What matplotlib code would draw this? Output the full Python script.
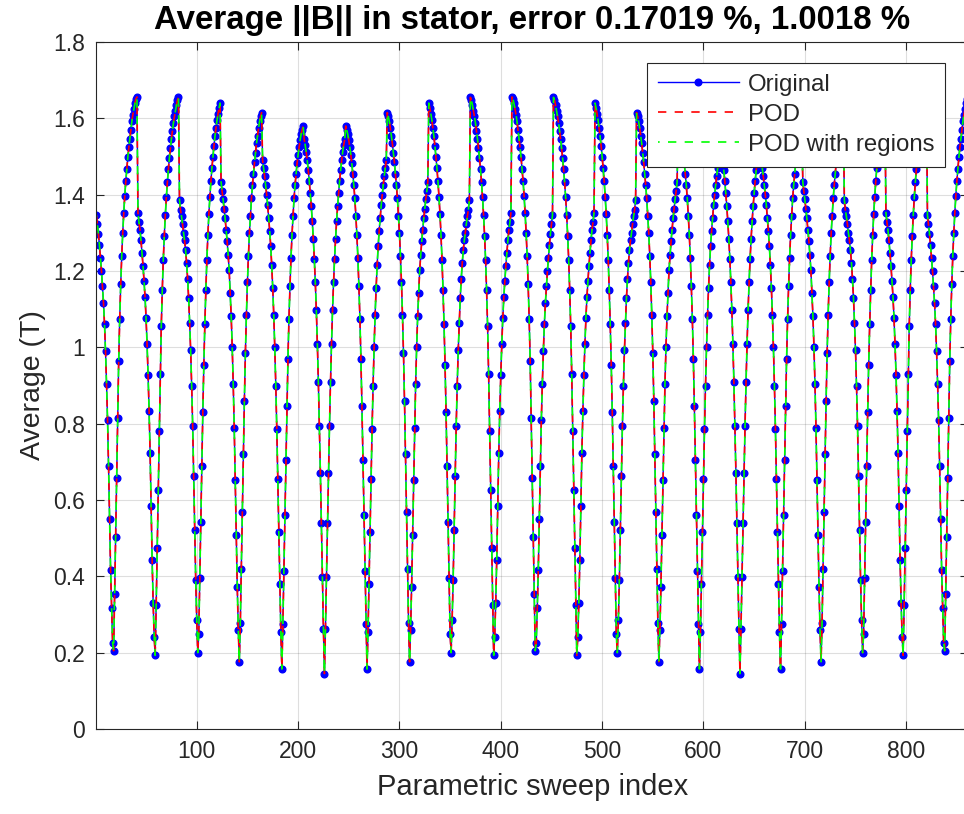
#!/usr/bin/env python3
"""Average ||B|| in the stator over the parametric sweep: original vs POD reconstructions."""

import matplotlib

matplotlib.use("Agg")
import matplotlib.pyplot as plt
import numpy as np

OUT_PATH = "out.png"

TITLE = "Average ||B|| in stator, error 0.17019 %, 1.0018 %"
X_LABEL = "Parametric sweep index"
Y_LABEL = "Average (T)"
LEGEND_LABELS = ["Original", "POD", "POD with regions"]

X_TICKS = [100, 200, 300, 400, 500, 600, 700, 800]
Y_TICKS = [0, 0.2, 0.4, 0.6, 0.8, 1.0, 1.2, 1.4, 1.6, 1.8]
Y_TICK_LABELS = ["0", "0.2", "0.4", "0.6", "0.8", "1", "1.2", "1.4", "1.6", "1.8"]

# The sweep is 21 blocks of 41 points. Blocks (A..K);
# the second half of the sweep repeats them (see BLOCK_ORDER).
block_a = [1.346, 1.323, 1.298, 1.268, 1.235, 1.200, 1.160, 1.116, 1.061, 0.990,
           0.905, 0.809, 0.688, 0.549, 0.417, 0.316, 0.225, 0.205, 0.353, 0.504,
           0.658, 0.814, 0.965, 1.075, 1.165, 1.240, 1.300, 1.352, 1.397, 1.435,
           1.468, 1.498, 1.524, 1.547, 1.570, 1.592, 1.610, 1.625, 1.639, 1.651,
           1.656]
block_b = [1.353, 1.328, 1.308, 1.280, 1.247, 1.214, 1.174, 1.132, 1.076, 1.008,
           0.927, 0.832, 0.722, 0.583, 0.442, 0.331, 0.242, 0.193, 0.326, 0.474,
           0.625, 0.780, 0.930, 1.055, 1.150, 1.230, 1.293, 1.347, 1.393, 1.432,
           1.466, 1.496, 1.522, 1.546, 1.568, 1.588, 1.605, 1.620, 1.635, 1.648,
           1.655]
block_c = [1.386, 1.360, 1.343, 1.323, 1.300, 1.280, 1.255, 1.222, 1.180, 1.130,
           1.065, 0.992, 0.900, 0.794, 0.663, 0.522, 0.391, 0.286, 0.200, 0.248,
           0.395, 0.543, 0.690, 0.830, 0.955, 1.060, 1.150, 1.230, 1.295, 1.350,
           1.395, 1.435, 1.470, 1.500, 1.528, 1.553, 1.575, 1.595, 1.612, 1.627,
           1.640]
block_d = [1.434, 1.409, 1.388, 1.363, 1.338, 1.308, 1.278, 1.242, 1.202, 1.142,
           1.081, 1.001, 0.905, 0.789, 0.653, 0.507, 0.371, 0.260, 0.176, 0.278,
           0.419, 0.569, 0.720, 0.860, 0.985, 1.085, 1.170, 1.240, 1.300, 1.345,
           1.390, 1.425, 1.455, 1.485, 1.510, 1.535, 1.555, 1.575, 1.592, 1.605,
           1.615]
block_e = [1.490, 1.470, 1.448, 1.425, 1.400, 1.372, 1.340, 1.305, 1.265, 1.215,
           1.155, 1.085, 1.000, 0.900, 0.785, 0.655, 0.517, 0.380, 0.254, 0.157,
           0.275, 0.415, 0.560, 0.705, 0.845, 0.970, 1.075, 1.160, 1.235, 1.295,
           1.345, 1.390, 1.425, 1.455, 1.482, 1.505, 1.525, 1.543, 1.558, 1.570,
           1.580]
block_f = [1.545, 1.530, 1.512, 1.490, 1.465, 1.437, 1.405, 1.370, 1.330, 1.285,
           1.232, 1.170, 1.097, 1.010, 0.910, 0.795, 0.670, 0.540, 0.398, 0.263,
           0.145, 0.263, 0.398, 0.540, 0.670, 0.795, 0.910, 1.010, 1.097, 1.170,
           1.232, 1.285, 1.330, 1.370, 1.405, 1.437, 1.465, 1.490, 1.512, 1.530,
           1.545]
block_g = [1.580, 1.570, 1.558, 1.543, 1.525, 1.505, 1.482, 1.455, 1.425, 1.390,
           1.345, 1.295, 1.235, 1.160, 1.075, 0.970, 0.845, 0.705, 0.560, 0.415,
           0.275, 0.157, 0.254, 0.380, 0.517, 0.655, 0.785, 0.900, 1.000, 1.085,
           1.155, 1.215, 1.265, 1.305, 1.340, 1.372, 1.400, 1.425, 1.448, 1.470,
           1.490]
block_h = [1.615, 1.605, 1.592, 1.575, 1.555, 1.535, 1.510, 1.485, 1.455, 1.425,
           1.390, 1.345, 1.300, 1.240, 1.170, 1.085, 0.985, 0.860, 0.720, 0.569,
           0.419, 0.278, 0.176, 0.260, 0.371, 0.507, 0.653, 0.789, 0.905, 1.001,
           1.081, 1.142, 1.202, 1.242, 1.278, 1.308, 1.338, 1.363, 1.388, 1.409,
           1.434]
block_i = [1.640, 1.627, 1.612, 1.595, 1.575, 1.553, 1.528, 1.500, 1.470, 1.435,
           1.395, 1.350, 1.295, 1.230, 1.150, 1.060, 0.955, 0.830, 0.690, 0.543,
           0.395, 0.248, 0.200, 0.286, 0.391, 0.522, 0.663, 0.794, 0.900, 0.992,
           1.065, 1.130, 1.180, 1.222, 1.255, 1.280, 1.300, 1.323, 1.343, 1.360,
           1.386]
block_j = [1.655, 1.648, 1.635, 1.620, 1.605, 1.588, 1.568, 1.546, 1.522, 1.496,
           1.466, 1.432, 1.393, 1.347, 1.293, 1.230, 1.150, 1.055, 0.930, 0.780,
           0.625, 0.474, 0.326, 0.193, 0.242, 0.331, 0.442, 0.583, 0.722, 0.832,
           0.927, 1.008, 1.076, 1.132, 1.174, 1.214, 1.247, 1.280, 1.308, 1.328,
           1.353]
block_k = [1.656, 1.651, 1.639, 1.625, 1.610, 1.592, 1.570, 1.547, 1.524, 1.498,
           1.468, 1.435, 1.397, 1.352, 1.300, 1.240, 1.165, 1.075, 0.965, 0.814,
           0.658, 0.504, 0.353, 0.205, 0.225, 0.316, 0.417, 0.549, 0.688, 0.809,
           0.905, 0.990, 1.061, 1.116, 1.160, 1.200, 1.235, 1.268, 1.298, 1.323,
           1.346]

BLOCK_ORDER = [block_a, block_b, block_c, block_d, block_e, block_f, block_g,
               block_h, block_i, block_j, block_k, block_j, block_i, block_h,
               block_g, block_f, block_e, block_d, block_c, block_b, block_a]

original = np.concatenate(BLOCK_ORDER)
# both reductions sit on top of the original at this scale (errors < 1.1 %)
pod = original.copy()
pod_regions = original.copy()
sweep_index = np.arange(1, len(original) + 1)

INK = "#262626"


def main():
    plt.rcParams["font.family"] = ["Liberation Sans", "DejaVu Sans"]

    fig = plt.figure(figsize=(9.64, 8.14), dpi=100)
    # axes box in pixels: left 96, right ~968 (cut by the figure edge), top 42, bottom 729
    ax = fig.add_axes([96.4 / 964, 85 / 814, 871.6 / 964, 687 / 814])

    ax.plot(sweep_index, original, "-", color="#0000ff", lw=1.0,
            marker="o", ms=4.8, mfc="#0000ff", mec="#0000ff", label=LEGEND_LABELS[0])
    ax.plot(sweep_index, pod, color="#ff0000", lw=1.2, linestyle=(0, (5, 5)),
            label=LEGEND_LABELS[1])
    ax.plot(sweep_index, pod_regions, color="#00ff00", lw=1.2, linestyle=(4, (5, 5)),
            label=LEGEND_LABELS[2])

    ax.set_xlim(1, len(original))
    ax.set_ylim(0, 1.8)
    ax.set_xticks(X_TICKS)
    ax.set_yticks(Y_TICKS)
    ax.set_yticklabels(Y_TICK_LABELS)

    ax.grid(True, color=INK, alpha=0.15, lw=0.8)
    ax.set_axisbelow(True)
    for side in ax.spines.values():
        side.set_color(INK)
        side.set_linewidth(0.8)
    ax.tick_params(direction="in", length=6, width=0.8, color=INK,
                   labelcolor=INK, labelsize=16.5, top=True, right=True, pad=8)

    ax.set_title(TITLE, fontsize=23.8, fontweight="bold", color="black", pad=9)
    ax.set_xlabel(X_LABEL, fontsize=21, color=INK, labelpad=7)
    ax.set_ylabel(Y_LABEL, fontsize=20.5, color=INK, labelpad=5)

    leg = ax.legend(loc="upper right", bbox_to_anchor=(0.9736, 0.9694),
                    borderaxespad=0, fontsize=17.3, fancybox=False, framealpha=1,
                    edgecolor=INK, handlelength=3.4, handletextpad=0.35,
                    labelspacing=0.33, borderpad=0.45)
    leg.get_frame().set_linewidth(0.8)
    for txt in leg.get_texts():
        txt.set_color(INK)

    fig.savefig(OUT_PATH, dpi=100)
    print(f"Saved: {OUT_PATH}")


if __name__ == "__main__":
    main()
